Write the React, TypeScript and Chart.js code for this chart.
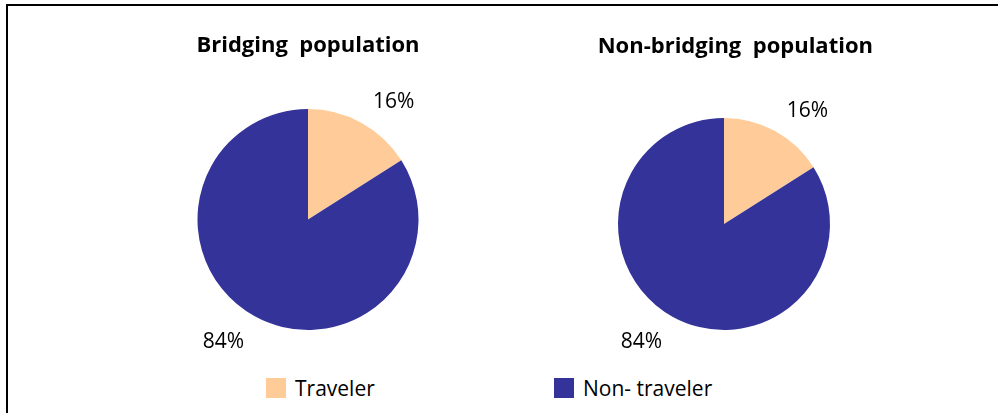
import React, { useEffect, useRef } from "react";
import { Chart, registerables } from "chart.js";

Chart.register(...registerables);

const categories = ["Traveler", "Non- traveler"];
const bridgingValues = [16, 84];
const nonBridgingValues = [16, 84];
const bridgingTitle = "Bridging  population";
const nonBridgingTitle = "Non-bridging  population";
const sliceColors = ["#FFCC99", "#333399"];

const FONT = "'Open Sans', 'DejaVu Sans', sans-serif";

const pctLabels = {
  id: "pctLabels",
  afterDatasetsDraw(chart: any) {
    const ctx = chart.ctx;
    const meta = chart.getDatasetMeta(0);
    const data = chart.data.datasets[0].data as number[];
    const total = data.reduce((a, b) => a + b, 0);
    ctx.save();
    ctx.font = `21px ${FONT}`;
    ctx.fillStyle = "#000";
    ctx.textBaseline = "alphabetic";
    meta.data.forEach((arc: any, i: number) => {
      const p = arc.getProps(["x", "y", "startAngle", "endAngle", "outerRadius"], true);
      const mid = (p.startAngle + p.endAngle) / 2;
      const dist = p.outerRadius + 14;
      const ax = p.x + Math.cos(mid) * dist;
      const ay = p.y + Math.sin(mid) * dist;
      const onRight = Math.cos(mid) >= 0;
      ctx.textAlign = onRight ? "left" : "right";
      const tx = onRight ? ax + 5 : ax - 4;
      const ty = Math.sin(mid) < 0 ? ay - 2 : ay + 19;
      ctx.fillText(Math.round((data[i] / total) * 100) + "%", tx, ty);
    });
    ctx.restore();
  },
};

function PieChart(props: {
  values: number[];
  title: string;
  align: "center" | "end";
  padTop: number;
  padBottom: number;
  style: React.CSSProperties;
  width: number;
  height: number;
}) {
  const ref = useRef<HTMLCanvasElement | null>(null);
  useEffect(() => {
    if (!ref.current) return;
    const chart = new Chart(ref.current, {
      type: "pie",
      data: {
        labels: categories,
        datasets: [
          {
            data: props.values,
            backgroundColor: sliceColors,
            borderWidth: 0,
            hoverBorderWidth: 0,
            hoverOffset: 0,
            offset: 0,
          },
        ],
      },
      options: {
        responsive: false,
        animation: false,
        events: [],
        layout: { padding: { left: 0, right: 0, top: 0, bottom: 30 } },
        plugins: {
          legend: { display: false },
          tooltip: { enabled: false },
          title: {
            display: true,
            text: props.title,
            align: props.align,
            color: "#000",
            font: { family: FONT, size: 22, weight: "bold", lineHeight: 1.2 },
            padding: { top: props.padTop, bottom: props.padBottom },
          },
        },
      },
      plugins: [pctLabels],
    });
    return () => chart.destroy();
  }, []);
  return (
    <canvas
      ref={ref}
      width={props.width}
      height={props.height}
      style={{ position: "absolute", display: "block", ...props.style }}
    />
  );
}

export default function App() {
  return (
    <div
      style={{
        position: "fixed",
        left: 0,
        top: 0,
        width: 998,
        height: 413,
        background: "#fff",
        overflow: "hidden",
      }}
    >
      <div
        style={{
          position: "absolute",
          left: 6,
          top: 4,
          width: 1200,
          height: 600,
          borderLeft: "2px solid #000",
          borderTop: "2px solid #000",
        }}
      />
      <PieChart
        values={bridgingValues}
        title={bridgingTitle}
        align="center"
        padTop={12.8}
        padBottom={49.8}
        width={300}
        height={340}
        style={{ left: 158, top: 20 }}
      />
      <PieChart
        values={nonBridgingValues}
        title={nonBridgingTitle}
        align="end"
        padTop={13.8}
        padBottom={57.8}
        width={298}
        height={340}
        style={{ left: 575, top: 20 }}
      />
      <div style={{ position: "absolute", left: 266, top: 376, display: "flex" }}>
        {categories.map((c, i) => (
          <div
            key={c}
            style={{ display: "flex", alignItems: "center", width: i === 0 ? 288 : "auto", height: 24 }}
          >
            <span
              style={{
                width: 20,
                height: 20,
                background: sliceColors[i],
                display: "inline-block",
                marginRight: 9,
              }}
            />
            <span style={{ font: `21px ${FONT}`, lineHeight: "24px", color: "#000", whiteSpace: "pre" }}>{c}</span>
          </div>
        ))}
      </div>
    </div>
  );
}
